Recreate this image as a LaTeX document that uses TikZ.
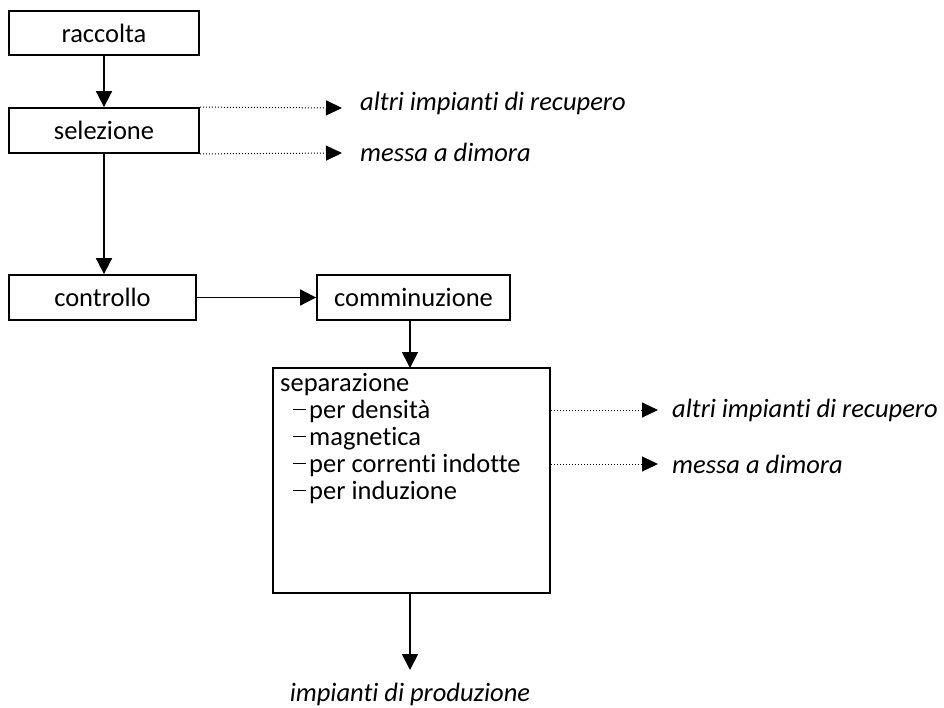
\documentclass[tikz,border=0pt]{standalone}
\usepackage{fontspec}
\setmainfont[Ligatures=NoCommon]{Carlito}
\usetikzlibrary{arrows.meta}
\begin{document}
\begin{tikzpicture}[x=1pt,y=-1pt,
  box/.style={draw,line width=1.8pt,inner sep=0pt,font=\fontsize{26.5}{30}\selectfont},
  flow/.style={line width=1.8pt,-{Triangle[length=16pt,width=16pt]}},
  dotflow/.style={line width=1pt,dotted,-{Triangle[length=16pt,width=15pt]}},
  lbl/.style={font=\fontsize{26.5}{30}\selectfont\itshape,inner sep=0pt}
]
\useasboundingbox (0,0) rectangle (944,707);
\node[box,minimum width=190pt,minimum height=44pt] (racc) at (104,33) {raccolta};
\node[box,minimum width=190pt,minimum height=45pt] (sel) at (104,130.5) {selezione};
\node[box,minimum width=187pt,minimum height=45pt] (ctrl) at (102.5,297.5) {controllo};
\node[box,minimum width=193pt,minimum height=45pt] (comm) at (413.5,297.5) {comminuzione};
\node[box,minimum width=277pt,minimum height=225pt] (sep) at (411.5,480.5) {};
\node[font=\fontsize{26.5}{27}\selectfont,align=left,anchor=north west,inner sep=0pt] (septxt) at (280,373)
  {separazione\\
   \hspace*{13pt}\rule[8pt]{13pt}{1.2pt}\hspace{3pt}per densità\\
   \hspace*{13pt}\rule[8pt]{13pt}{1.2pt}\hspace{3pt}magnetica\\
   \hspace*{13pt}\rule[8pt]{13pt}{1.2pt}\hspace{3pt}per correnti indotte\\
   \hspace*{13pt}\rule[8pt]{13pt}{1.2pt}\hspace{3pt}per induzione};
\node[lbl,anchor=west] (l1) at (360,103) {altri impianti di recupero};
\node[lbl,anchor=west] (l2) at (360,152) {messa a dimora};
\node[lbl,anchor=west] (l3) at (672,410) {altri impianti di recupero};
\node[lbl,anchor=west] (l4) at (672,464) {messa a dimora};
\node[lbl] (l5) at (410,694) {impianti di produzione};
\coordinate (t1) at (342,108);
\coordinate (t2) at (342,153);
\coordinate (t3) at (658,410);
\coordinate (t4) at (658,464);
\coordinate (t5) at (410,670);
\draw[flow] (racc.south) -- (sel.north);
\draw[flow] (sel.south) -- (sel.south |- ctrl.north);
\draw[flow] (ctrl.east) -- (comm.west);
\draw[flow] (410,320) -- (410,368);
\draw[flow] (sep.south -| t5) -- (t5);
\draw[dotflow] (sel.north east) -- (t1);
\draw[dotflow] (sel.south east) -- (t2);
\draw[dotflow] (sep.east |- t3) -- (t3);
\draw[dotflow] (sep.east |- t4) -- (t4);
\end{tikzpicture}
\end{document}
